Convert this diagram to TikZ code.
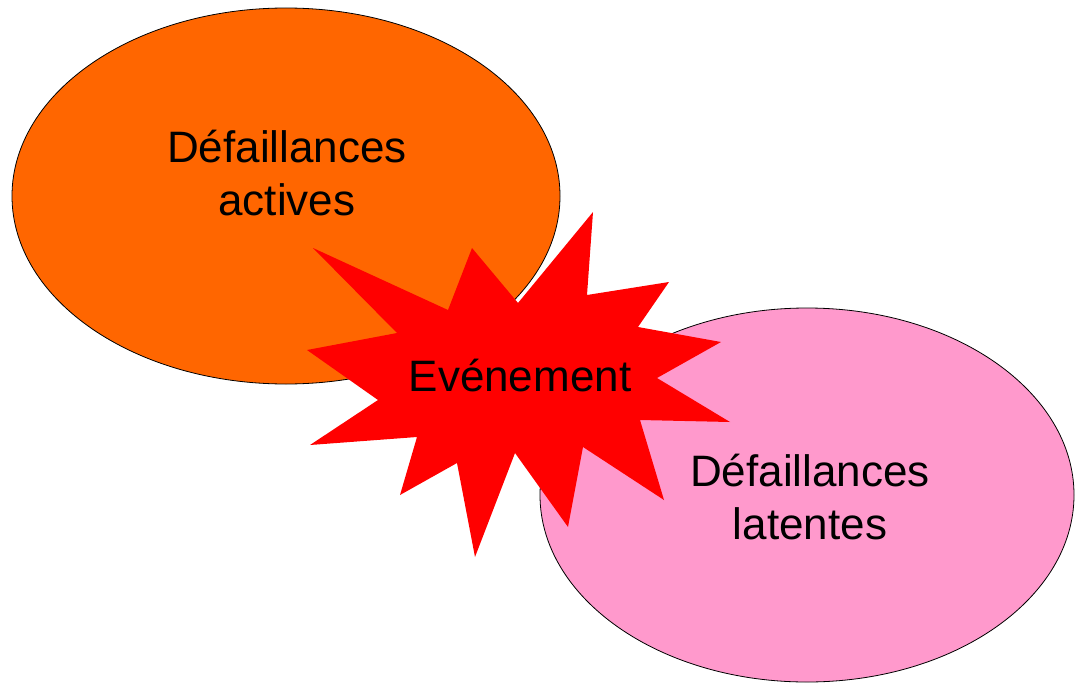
\documentclass[tikz,border=0pt]{standalone}
\usepackage{fontspec}
\setmainfont{Liberation Sans}
\usetikzlibrary{shapes.geometric}
\definecolor{actcol}{HTML}{FF6600}
\definecolor{latcol}{HTML}{FF99CC}
\definecolor{evtcol}{HTML}{FF0000}
\tikzset{
  blob/.style={ellipse, draw=black, line width=0.8pt, inner sep=0pt},
  lbl/.style={align=center, inner sep=0pt, font=\fontsize{44}{53}\selectfont},
}
\begin{document}
\begin{tikzpicture}[x=1pt,y=-1pt]
\useasboundingbox (0,0) rectangle (1075,685);
\node[blob, fill=actcol, minimum width=548pt, minimum height=376pt] (act) at (286,196) {};
\node[blob, fill=latcol, minimum width=534pt, minimum height=374pt] (lat) at (807,495) {};
\fill[evtcol] (313,248) -- (448,310) -- (472,248) -- (518,303) -- (593,212) -- (587,295)
  -- (669,282) -- (638,327) -- (721,342) -- (657,378) -- (730,422) -- (640,420)
  -- (664,500) -- (583,447) -- (568,527) -- (515,453) -- (475,557) -- (457,463)
  -- (400,495) -- (417,437) -- (310,445) -- (378,400) -- (307,350) -- (397,333) -- cycle;
\node[lbl] (tact) at (287,173) {Défaillances\\actives};
\node[lbl] (tlat) at (810,497) {Défaillances\\latentes};
\node[lbl] (tevt) at (520,376) {Evénement};
\end{tikzpicture}
\end{document}
